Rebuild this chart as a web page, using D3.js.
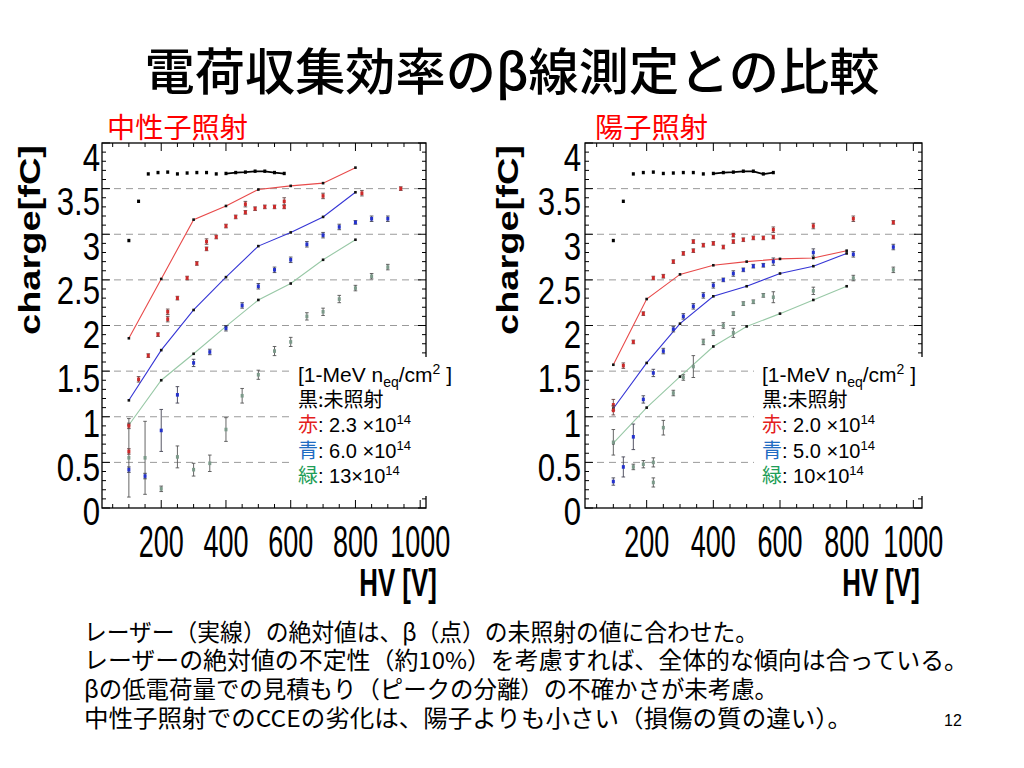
<!DOCTYPE html>
<html><head><meta charset="utf-8">
<script src="https://cdn.jsdelivr.net/npm/d3@7"></script>
<style>body{margin:0;background:#fff}</style>
</head><body>
<svg id="c" width="1024" height="768"></svg>
<script>
// ---------- data: [HV (V), charge (fC), error] ----------
const yTickValues = [0, 0.5, 1, 1.5, 2, 2.5, 3, 3.5, 4];
const yTickLabels = ["0", "0.5", "1", "1.5", "2", "2.5", "3", "3.5", "4"];
const xTickValues = [200, 400, 600, 800, 1000];
const xTickLabels = ["200", "400", "600", "800", "1000"];
const gridValues = [0.5, 1, 1.5, 2, 2.5, 3, 3.5];

// neutron irradiated (left)
const nBlack = [[100,2.93],[130,3.36],[160,3.66],[190,3.675],[220,3.68],[250,3.66],[280,3.67],[310,3.675],[340,3.675],[370,3.66],[400,3.665],[430,3.675],[460,3.68],[490,3.69],[520,3.69],[550,3.675],[580,3.665]];
const nRed = [[100,0.90,0.03],[100,0.62,0.03],[130,1.41,0.03],[160,1.67,0.02],[190,1.90,0.02],[220,2.15,0.03],[220,2.07,0.03],[250,2.30,0.02],[280,2.52,0.02],[310,2.68,0.02],[340,2.92,0.03],[340,2.84,0.02],[370,2.97,0.02],[400,3.09,0.02],[430,3.19,0.02],[460,3.33,0.03],[460,3.24,0.02],[490,3.28,0.02],[520,3.30,0.02],[550,3.30,0.02],[580,3.36,0.04],[580,3.30,0.02],[700,3.42,0.03],[820,3.45,0.03],[940,3.50,0.02]];
const nBlue = [[100,0.42,0.03],[150,0.35,0.03],[200,0.85,0.23],[250,1.24,0.09],[300,1.59,0.04],[350,1.71,0.03],[400,1.97,0.03],[450,2.22,0.03],[500,2.43,0.03],[550,2.61,0.03],[600,2.72,0.03],[650,2.89,0.03],[700,2.99,0.03],[750,3.08,0.03],[800,3.13,0.02],[850,3.17,0.03],[900,3.17,0.03]];
const nGreen = [[100,0.55,0.43],[150,0.55,0.40],[200,0.21,0.03],[250,0.56,0.12],[300,0.42,0.07],[350,0.49,0.09],[400,0.86,0.13],[450,1.23,0.08],[500,1.46,0.05],[550,1.72,0.05],[600,1.82,0.05],[650,2.10,0.04],[700,2.15,0.04],[750,2.29,0.04],[800,2.41,0.03],[850,2.54,0.03],[900,2.64,0.03]];
const nRedLaser = [[100,1.86],[200,2.51],[300,3.16],[400,3.31],[500,3.49],[600,3.53],[700,3.56],[800,3.73]];
const nBlueLaser = [[100,1.18],[200,1.73],[300,2.17],[400,2.53],[500,2.87],[600,3.02],[700,3.19],[800,3.46]];
const nGreenLaser = [[100,0.91],[200,1.40],[300,1.69],[400,1.99],[500,2.28],[600,2.46],[700,2.72],[800,2.94]];
const nLegend = ["2.3  ×10", "6.0  ×10", "13×10"];

// proton irradiated (right)
const pBlack = [[100,2.93],[130,3.36],[160,3.66],[190,3.675],[220,3.68],[250,3.665],[280,3.67],[310,3.675],[340,3.675],[370,3.66],[400,3.665],[430,3.675],[460,3.68],[490,3.69],[520,3.69],[550,3.66],[580,3.675]];
const pRed = [[100,1.13,0.06],[100,1.07,0.05],[130,1.56,0.03],[160,1.82,0.02],[190,2.13,0.02],[220,2.52,0.02],[250,2.54,0.02],[280,2.70,0.02],[310,2.79,0.02],[340,2.92,0.02],[340,2.82,0.02],[370,2.88,0.02],[400,2.90,0.02],[430,2.86,0.02],[460,2.99,0.02],[460,2.92,0.02],[490,2.94,0.02],[520,2.96,0.02],[550,2.96,0.02],[580,3.05,0.03],[580,2.97,0.02],[700,3.09,0.03],[820,3.17,0.03],[940,3.13,0.02]];
const pBlue = [[100,0.29,0.04],[130,0.45,0.11],[160,0.78,0.14],[190,1.19,0.04],[220,1.48,0.04],[250,1.72,0.03],[280,1.96,0.03],[310,2.10,0.03],[340,2.21,0.03],[370,2.33,0.03],[400,2.44,0.03],[430,2.50,0.02],[460,2.57,0.03],[490,2.61,0.02],[520,2.65,0.02],[550,2.66,0.02],[580,2.70,0.04],[700,2.80,0.04],[820,2.78,0.03],[940,2.86,0.03]];
const pGreen = [[100,0.72,0.14],[160,0.45,0.03],[190,0.48,0.04],[220,0.50,0.05],[220,0.28,0.05],[250,0.88,0.08],[280,1.26,0.03],[310,1.43,0.03],[340,1.55,0.12],[370,1.82,0.03],[400,1.92,0.03],[430,2.00,0.03],[460,2.13,0.02],[460,1.92,0.05],[490,2.24,0.02],[520,2.26,0.02],[550,2.33,0.02],[580,2.31,0.06],[700,2.38,0.04],[820,2.52,0.03],[940,2.61,0.03]];
const pRedLaser = [[100,1.57],[200,2.29],[300,2.56],[400,2.66],[500,2.70],[600,2.73],[700,2.74],[800,2.82]];
const pBlueLaser = [[100,1.09],[200,1.59],[300,2.02],[400,2.32],[500,2.43],[600,2.57],[700,2.65],[800,2.79]];
const pGreenLaser = [[100,0.71],[200,1.10],[300,1.44],[400,1.77],[500,1.99],[600,2.13],[700,2.28],[800,2.43]];
const pLegend = ["2.0  ×10", "5.0  ×10", "10×10"];

const titleText = "電荷収集効率のβ線測定との比較";
const notes = [
  "レーザー（実線）の絶対値は、β（点）の未照射の値に合わせた。",
  "レーザーの絶対値の不定性（約10%）を考慮すれば、全体的な傾向は合っている。",
  "βの低電荷量での見積もり（ピークの分離）の不確かさが未考慮。",
  "中性子照射でのCCEの劣化は、陽子よりも小さい（損傷の質の違い）。"
];
const noteWidths = [674, 884, 694, 768];

// ---------- drawing ----------
const svg = d3.select("#c");
const CJK = "'Noto Sans CJK JP', sans-serif";
const LAT = "'Liberation Sans', Arial, 'Noto Sans CJK JP', sans-serif";

svg.append("text").attr("x", 512).attr("y", 90).attr("text-anchor", "middle")
  .attr("font-family", CJK).attr("font-size", 50).attr("font-weight", 500).attr("fill", "#000")
  .attr("textLength", 735).attr("lengthAdjust", "spacingAndGlyphs").text(titleText);

// notes as one multi-line text block
const noteY = [641, 669, 698, 727];
const notesText = svg.append("text").attr("font-family", CJK).attr("font-size", 23.5).attr("fill", "#000");
notes.forEach((t, i) => {
  notesText.append("tspan").attr("x", 84).attr("y", noteY[i])
    .attr("textLength", noteWidths[i]).attr("lengthAdjust", "spacingAndGlyphs").text(t);
});
svg.append("text").attr("x", 953).attr("y", 726).attr("text-anchor", "middle")
  .attr("font-family", LAT).attr("font-size", 16).text("12");

function panel(cfg) {
  const g = svg.append("g");
  const x = d3.scaleLinear().domain(cfg.xDomain).range([cfg.left, cfg.right]);
  const y = d3.scaleLinear().domain([0, 4]).range([508, 143]);
  const yl = d3.scaleLinear().domain([0, 4]).range([525, 171]);

  // grid
  g.selectAll(".grid").data(gridValues).join("line")
    .attr("x1", cfg.left).attr("x2", cfg.right)
    .attr("y1", d => y(d)).attr("y2", d => y(d))
    .attr("stroke", "#9a9a9a").attr("stroke-width", 1).attr("stroke-dasharray", "7,5");

  // frame
  g.append("rect").attr("x", cfg.left).attr("y", 143).attr("width", cfg.right - cfg.left)
    .attr("height", 365).attr("fill", "none").attr("stroke", "#000").attr("stroke-width", 1.3);

  // y ticks
  const yt = d3.range(0, 41).map(i => i / 10);
  yt.forEach(v => {
    const L = (Math.round(v * 10) % 5 === 0) ? 8 : 4;
    g.append("line").attr("x1", cfg.left).attr("x2", cfg.left + L).attr("y1", y(v)).attr("y2", y(v)).attr("stroke", "#000");
    g.append("line").attr("x1", cfg.right).attr("x2", cfg.right - L).attr("y1", y(v)).attr("y2", y(v)).attr("stroke", "#000");
  });
  // x ticks
  const xt = d3.range(50, 1001, 50).filter(v => v >= cfg.xDomain[0] && v <= cfg.xDomain[1]);
  xt.forEach(v => {
    const L = (v % 200 === 0) ? 8 : 4;
    g.append("line").attr("x1", x(v)).attr("x2", x(v)).attr("y1", 508).attr("y2", 508 - L).attr("stroke", "#000");
    g.append("line").attr("x1", x(v)).attr("x2", x(v)).attr("y1", 143).attr("y2", 143 + L).attr("stroke", "#000");
  });

  // laser lines
  const line = d3.line().x(d => x(d[0])).y(d => y(d[1]));
  [[cfg.redL, "#e84a4a"], [cfg.blueL, "#3535d5"], [cfg.greenL, "#98c8a6"]].forEach(([data, col]) => {
    g.append("path").attr("d", line(data)).attr("fill", "none").attr("stroke", col).attr("stroke-width", 1.1);
    g.selectAll(null).data(data).join("rect")
      .attr("x", d => x(d[0]) - 1.3).attr("y", d => y(d[1]) - 1.3).attr("width", 2.6).attr("height", 2.6).attr("fill", "#111");
  });

  // beta points
  function pts(data, col, ecol) {
    data.forEach(d => {
      const cx = x(d[0]), cy = y(d[1]), e = d[2] || 0;
      if (e > 0) {
        g.append("line").attr("x1", cx).attr("x2", cx).attr("y1", y(d[1] - e)).attr("y2", y(d[1] + e))
          .attr("stroke", ecol).attr("stroke-width", 0.9);
        [d[1] - e, d[1] + e].forEach(v => g.append("line").attr("x1", cx - 1.8).attr("x2", cx + 1.8)
          .attr("y1", y(v)).attr("y2", y(v)).attr("stroke", ecol).attr("stroke-width", 0.9));
      }
      g.append("rect").attr("x", cx - 1.5).attr("y", cy - 1.8).attr("width", 3).attr("height", 3.6).attr("fill", col);
    });
  }
  pts(cfg.green, "#7c9a8a", "#555");
  pts(cfg.blue, "#2432cc", "#445");
  pts(cfg.red, "#cc2a2a", "#644");
  // black beta points
  g.selectAll(null).data(cfg.black).join("rect")
    .attr("x", d => x(d[0]) - 1.5).attr("y", d => y(d[1]) - 1.8).attr("width", 3).attr("height", 3.4).attr("fill", "#000");
  g.append("path").attr("d", line(cfg.black.filter(d => d[0] >= 400)))
    .attr("fill", "none").attr("stroke", "#000").attr("stroke-width", 1.8);

  // legend box and legend as one multi-line text block
  g.append("rect").attr("x", cfg.legX - 8).attr("y", 357).attr("width", 182).attr("height", 139).attr("fill", "#fff");
  const lx = cfg.legX;
  const leg = g.append("text").attr("font-family", LAT).attr("font-size", 20).attr("fill", "#000");
  const l1 = leg.append("tspan").attr("x", lx).attr("y", 382).attr("font-size", 21);
  l1.append("tspan").text("[1-MeV n");
  l1.append("tspan").attr("font-size", 14).attr("dy", 5).text("eq");
  l1.append("tspan").attr("dy", -5).text("/cm");
  l1.append("tspan").attr("font-size", 14).attr("dy", -8).text("2");
  l1.append("tspan").attr("dy", 8).text(" ]");
  leg.append("tspan").attr("x", lx).attr("y", 407).attr("font-family", CJK).text("黒:未照射");
  const cols = ["#e4201c", "#1f6cc2", "#1f9e58"];
  const names = ["赤", "青", "緑"];
  cfg.legend.forEach((s, i) => {
    const t = leg.append("tspan").attr("x", lx).attr("y", 432 + i * 25.5);
    t.append("tspan").attr("font-family", CJK).attr("fill", cols[i]).text(names[i]);
    t.append("tspan").attr("fill", "#000").text(": " + s);
    t.append("tspan").attr("font-size", 13).attr("dy", -8).text("14");
  });

  // tick labels (slide overlay)
  yTickValues.forEach((v, i) => {
    g.append("text").attr("transform", `translate(${cfg.labelRight},${yl(v)}) scale(0.8,1)`)
      .attr("text-anchor", "end").attr("font-family", LAT).attr("font-size", 39).text(yTickLabels[i]);
  });
  xTickValues.forEach((v, i) => {
    g.append("text").attr("transform", `translate(${x(v)},557) scale(0.6,1)`)
      .attr("text-anchor", "middle").attr("font-family", LAT).attr("font-size", 45).text(xTickLabels[i]);
  });
  g.append("text").attr("transform", `translate(${cfg.hvX},596) scale(0.68,1)`)
    .attr("text-anchor", "middle").attr("font-family", LAT).attr("font-weight", "bold").attr("font-size", 38).text("HV [V]");
  g.append("text").attr("transform", `translate(${cfg.chargeX},240) rotate(-90)`)
    .attr("text-anchor", "middle").attr("font-family", LAT).attr("font-weight", "bold").attr("font-size", 30)
    .attr("textLength", 190).attr("lengthAdjust", "spacingAndGlyphs").text("charge[fC]");
  g.append("text").attr("x", cfg.titleX).attr("y", 138).attr("font-family", CJK).attr("font-size", 28)
    .attr("fill", "#f00").attr("textLength", cfg.titleW).attr("lengthAdjust", "spacingAndGlyphs").text(cfg.title);
}

panel({xDomain: [17, 1018], left: 102, right: 426, black: nBlack, red: nRed, blue: nBlue, green: nGreen,
  redL: nRedLaser, blueL: nBlueLaser, greenL: nGreenLaser, legend: nLegend, legX: 298,
  labelRight: 100, hvX: 398, chargeX: 40, titleX: 107, titleW: 141, title: "中性子照射"});
panel({xDomain: [15, 1026], left: 585, right: 922, black: pBlack, red: pRed, blue: pBlue, green: pGreen,
  redL: pRedLaser, blueL: pBlueLaser, greenL: pGreenLaser, legend: pLegend, legX: 762,
  labelRight: 581, hvX: 881, chargeX: 518, titleX: 595, titleW: 113, title: "陽子照射"});
</script>
</body></html>
